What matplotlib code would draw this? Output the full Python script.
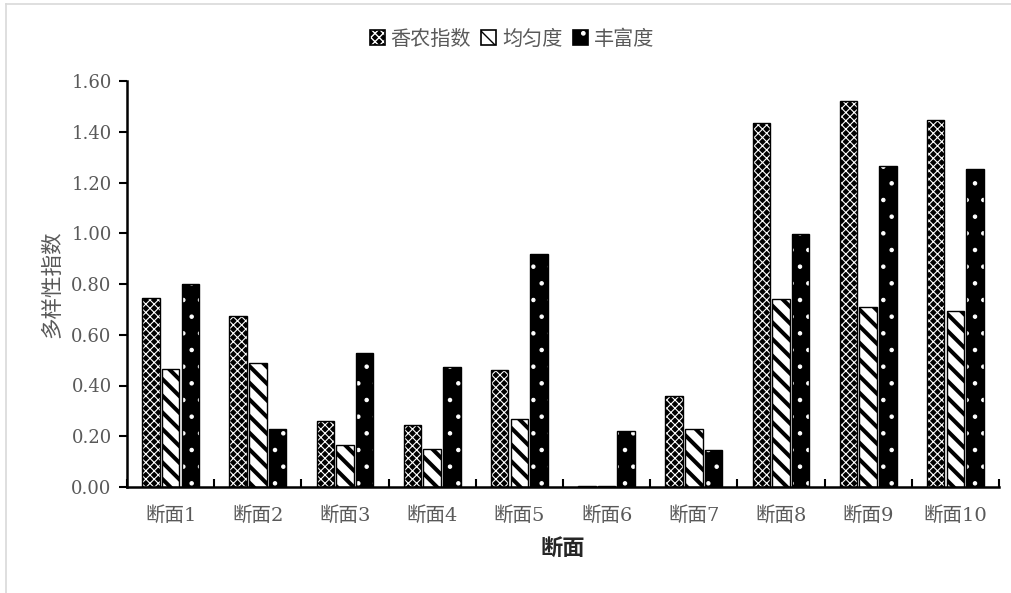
import matplotlib
matplotlib.use("Agg")
import matplotlib.pyplot as plt
import numpy as np
from matplotlib.patches import Patch
from matplotlib.lines import Line2D

categories = ["断面1", "断面2", "断面3", "断面4", "断面5", "断面6", "断面7", "断面8", "断面9", "断面10"]
shannon = [0.745, 0.674, 0.26, 0.244, 0.461, 0.005, 0.359, 1.434, 1.521, 1.446]
evenness = [0.465, 0.489, 0.166, 0.15, 0.268, 0.005, 0.229, 0.741, 0.709, 0.694]
richness = [0.80, 0.229, 0.528, 0.473, 0.918, 0.22, 0.146, 0.997, 1.265, 1.253]
series_names = ["香农指数", "均匀度", "丰富度"]
yticks = [0.0, 0.2, 0.4, 0.6, 0.8, 1.0, 1.2, 1.4, 1.6]

plt.rcParams['font.family'] = ['DejaVu Serif', 'Noto Sans CJK SC', 'DejaVu Sans']
plt.rcParams['axes.unicode_minus'] = False

fig = plt.figure(figsize=(10.11, 5.93), dpi=100)
ax = fig.add_axes([127/1011, 1-487/593, 872/1011, 406/593])

x = np.arange(len(categories))
w = 0.2
off = 0.225

# (face, hatch, hatchcolor, hatch lw)
styles = [
    ("black", "xxxx", "white", 0.8),
    ("white", "\\\\", "black", 2.9),
    ("black", ".", "white", 0.8),
]
data = [shannon, evenness, richness]
handles = []
for i, (vals, (fc, h, hc, hlw)) in enumerate(zip(data, styles)):
    pos = x + (i - 1) * off
    with plt.rc_context({'hatch.linewidth': hlw}):
        bars = ax.bar(pos, vals, width=w, color=fc, edgecolor=hc, hatch=h, linewidth=0, zorder=2)
        for b in bars:
            if hasattr(b, "set_hatch_linewidth"):
                b.set_hatch_linewidth(hlw)
        ax.bar(pos, vals, width=w, fill=False, edgecolor="black", linewidth=1.0, zorder=3)
        hp = Patch(facecolor=fc, edgecolor=hc, hatch=h, linewidth=0)
        if hasattr(hp, "set_hatch_linewidth"):
            hp.set_hatch_linewidth(hlw)
    outline = Patch(fill=False, edgecolor="black", linewidth=1.2)
    handles.append((hp, outline))

ax.set_xlim(-0.5, len(categories) - 0.5)
ax.set_ylim(0, 1.6)
ax.set_yticks(yticks)
ax.set_yticklabels([f"{v:.2f}" for v in yticks])
ax.set_xticks(x)
ax.set_xticklabels(categories)
ax.set_xticks(np.arange(len(categories) + 1) - 0.5, minor=True)
ax.tick_params(axis='x', which='major', length=0, pad=14, labelsize=14, labelcolor="#595959")
ax.tick_params(axis='x', which='minor', direction='in', length=6, width=1.5, color='black')
ax.tick_params(axis='y', direction='out', length=6, width=1.5, color='black', pad=5,
               labelsize=13, labelcolor="#595959")

for s in ["top", "right"]:
    ax.spines[s].set_visible(False)
for s in ["left", "bottom"]:
    ax.spines[s].set_linewidth(1.8)
    ax.spines[s].set_color("black")

ax.set_ylabel("多样性指数", fontsize=15.5, color="#595959", labelpad=6)
ax.set_xlabel("断面", fontsize=16, fontweight="bold", color="#262626", labelpad=10)

leg = fig.legend(handles, series_names, loc="center", bbox_to_anchor=(512/1011, 1-39/593),
                 ncol=3, frameon=False, handlelength=0.75, handleheight=0.75,
                 handletextpad=0.3, columnspacing=0.5, fontsize=14.5)
for t in leg.get_texts():
    t.set_color("#595959")

# light chart-area border (left and top)
fig.add_artist(Line2D([6/1011, 6/1011], [0, 1-4/593], color="#d9d9d9", linewidth=1.2))
fig.add_artist(Line2D([6/1011, 1], [1-4/593, 1-4/593], color="#d9d9d9", linewidth=1.2))

fig.savefig("out.png", dpi=100)
